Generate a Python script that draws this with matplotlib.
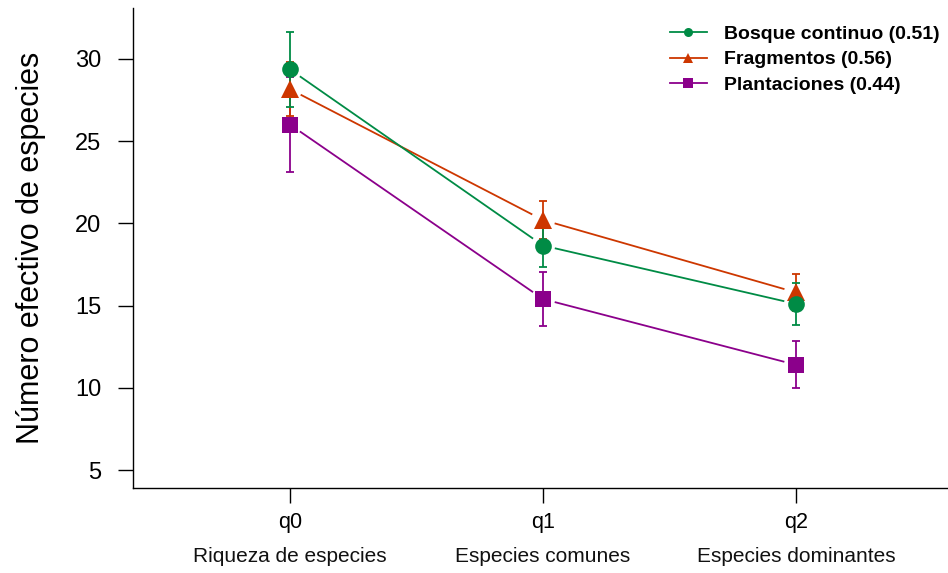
import matplotlib.pyplot as plt
import numpy as np

plt.rcParams['font.family'] = ['Liberation Sans', 'DejaVu Sans']

# diversity orders and their descriptions
orders = ['q0', 'q1', 'q2']
descriptions = ['Riqueza de especies', 'Especies comunes', 'Especies dominantes']
x_pos = [1, 2, 3]

# effective number of species (mean and error) per habitat
bosque = [29.35, 18.65, 15.1]
bosque_err = [2.3, 1.3, 1.25]
fragmentos = [28.15, 20.2, 15.8]
fragmentos_err = [1.65, 1.15, 1.15]
plantaciones = [26.0, 15.4, 11.4]
plantaciones_err = [2.9, 1.65, 1.42]

series = [
    ('Plantaciones (0.44)', plantaciones, plantaciones_err, '#8B008B', 's', 11),
    ('Fragmentos (0.56)', fragmentos, fragmentos_err, '#CD3700', '^', 13),
    ('Bosque continuo (0.51)', bosque, bosque_err, '#008B45', 'o', 12),
]

fig = plt.figure(figsize=(9.48, 5.73), dpi=100)
ax = fig.add_axes([133 / 948, 1 - 488 / 573, 820 / 948, 480 / 573])
ax.set_xlim(0.38, 3.62)
ax.set_ylim(3.92, 33.08)


def gapped_line(ax, x, y, color, gap=13):
    # connect points leaving a gap around each marker (like type="b")
    pts = ax.transData.transform(np.column_stack([x, y]))
    inv = ax.transData.inverted()
    for a, b in zip(pts[:-1], pts[1:]):
        d = b - a
        u = d / np.hypot(*d)
        seg = inv.transform([a + u * gap, b - u * gap])
        ax.plot(seg[:, 0], seg[:, 1], color=color, lw=1.3, zorder=2)


handles = {}
for label, vals, errs, col, mk, ms in series:
    ax.errorbar(x_pos, vals, yerr=errs, fmt='none', ecolor=col, elinewidth=1.3,
                capsize=3, capthick=1.3, zorder=3)
    gapped_line(ax, x_pos, vals, col)
    ax.plot(x_pos, vals, linestyle='none', marker=mk, markersize=ms,
            color=col, markeredgewidth=0, zorder=4)
    handles[label] = plt.Line2D([], [], color=col, marker=mk, markersize=6.5,
                                lw=1.3, markeredgewidth=0)

for s in ['top', 'right']:
    ax.spines[s].set_visible(False)
for s in ['left', 'bottom']:
    ax.spines[s].set_linewidth(1.0)

ax.set_yticks([5, 10, 15, 20, 25, 30])
ax.tick_params(axis='y', length=11, width=1, labelsize=17, pad=12)
ax.set_xticks(x_pos)
ax.set_xticklabels(orders)
ax.tick_params(axis='x', length=11, width=1, labelsize=15.5, pad=6)
for xp, desc in zip(x_pos, descriptions):
    ax.text(xp, -0.143, desc, transform=ax.get_xaxis_transform(),
            ha='center', va='center', fontsize=15, color='#111111')

ax.set_ylabel('Número efectivo de especies', fontsize=22)
ax.yaxis.set_label_coords(-0.106, 0.5)

order = ['Bosque continuo (0.51)', 'Fragmentos (0.56)', 'Plantaciones (0.44)']
leg = ax.legend([handles[k] for k in order], order, loc='upper left',
                bbox_to_anchor=(670 / 948, 1 - 25 / 573), bbox_transform=fig.transFigure,
                frameon=False, handlelength=1.9, handletextpad=0.9, labelspacing=0.42,
                borderaxespad=0, borderpad=0,
                prop={'weight': 'bold', 'size': 14})

fig.savefig('out.png', dpi=100)
